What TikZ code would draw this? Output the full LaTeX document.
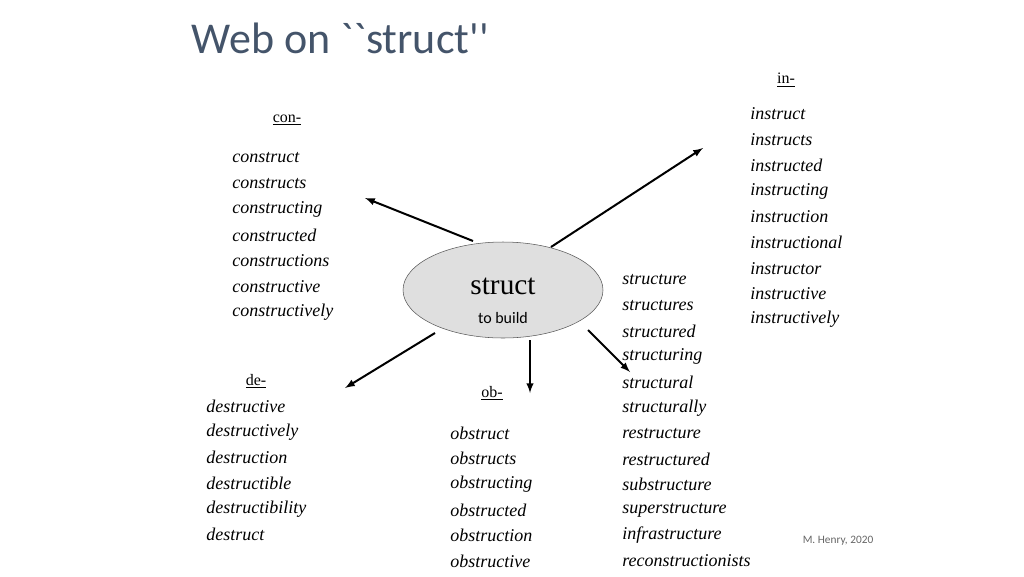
\documentclass[tikz,border=0pt]{standalone}
\usepackage{fontspec}
\setmainfont{Liberation Serif}
\newfontfamily\slidefont{Carlito}
\usetikzlibrary{shapes.geometric}
\definecolor{titlegray}{RGB}{68,84,106}
\tikzset{
  word/.style={anchor=west,font=\itshape\fontsize{13.5}{16}\selectfont,inner sep=0pt},
  affix/.style={font=\fontsize{12}{14}\selectfont,inner sep=1pt},
  spoke/.style={->,>=latex,line width=1.5pt}
}
\begin{document}
\begin{tikzpicture}[x=0.75pt,y=-0.75pt]
			\useasboundingbox (0,0) rectangle (1024,576);
			%%Title
			\node[anchor=west,text=titlegray,font=\slidefont\fontsize{33}{38}\selectfont] (title) at (187,38) {Web on ``struct''};
			%%Center
			\node[ellipse,draw=gray!70!black,fill=gray!25,minimum width=150pt,minimum height=72pt] (root) at (503,290) {};
			\node[font=\fontsize{22}{24}\selectfont] (rootword) at (503,286) {struct};
			\node[font=\slidefont\fontsize{12}{14}\selectfont] (rootmeaning) at (503,318) {to build};
			%%Prefixes
			\node[affix] (con) at (287,120) {\underline{con-}};
			\node[affix] (in) at (786,80) {\underline{in-}};
			\node[affix] (de) at (256,381) {\underline{de-}};
			\node[affix] (ob) at (492,393) {\underline{ob-}};
			%%Lists
			\foreach \w [count=\i] in {construct,constructs,constructing,constructed,constructions,constructive,constructively}
				\node[word] (con\i) at (232,158+25.7*\i-25.7) {\w};
			\foreach \w [count=\i] in {instruct,instructs,instructed,instructing,instruction,instructional,instructor,instructive,instructively}
				\node[word] (in\i) at (750,114+25.7*\i-25.7) {\w};
			\foreach \w [count=\i] in {destructive,destructively,destruction,destructible,destructibility,destruct}
				\node[word] (de\i) at (206,406+25.7*\i-25.7) {\w};
			\foreach \w [count=\i] in {obstruct,obstructs,obstructing,obstructed,obstruction,obstructive}
				\node[word] (ob\i) at (450,433+25.7*\i-25.7) {\w};
			\foreach \w [count=\i] in {structure,structures,structured,structuring,structural,structurally,restructure,restructured,substructure,superstructure,infrastructure,reconstructionists}
				\node[word] (st\i) at (622,280+25.55*\i-25.55) {\w};
			%%Spokes
			\coordinate (conend) at (365,198);
			\coordinate (inend) at (703,148);
			\coordinate (deend) at (345,388);
			\coordinate (obend) at (530,393);
			\coordinate (stend) at (630,372);
			\draw[spoke] (473,241) -- (conend);
			\draw[spoke] (551,247) -- (inend);
			\draw[spoke] (435,333) -- (deend);
			\draw[spoke] (530,340) -- (obend);
			\draw[spoke] (588,330) -- (stend);
			%%Credit
			\node[text=gray!80!black,font=\slidefont\fontsize{8.5}{10}\selectfont] (credit) at (838,541) {M. Henry, 2020};
\end{tikzpicture}
\end{document}
